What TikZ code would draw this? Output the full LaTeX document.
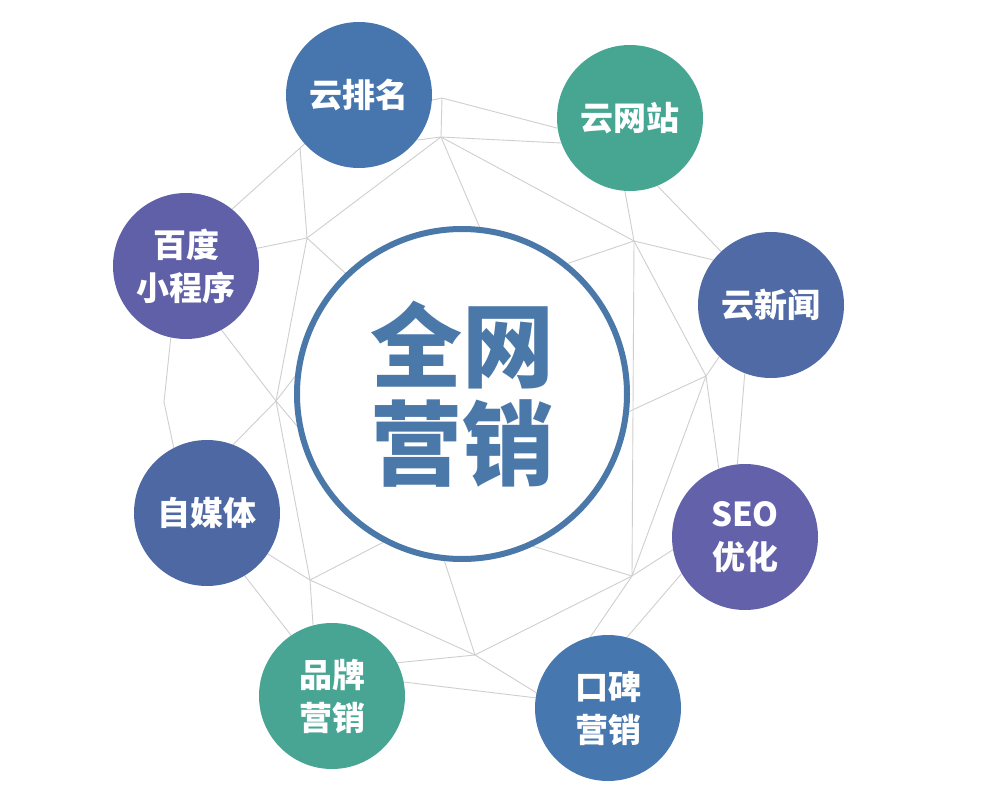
\documentclass[tikz,border=0pt]{standalone}
\usepackage{fontspec}
\setmainfont{Noto Sans CJK SC}
\newfontfamily\cjkheavy{Noto Sans CJK SC Black}
\pgfdeclarelayer{bg}
\pgfsetlayers{bg,main}
\definecolor{bigblue}{HTML}{4A78A8}
\definecolor{cYpm}{HTML}{4676AD}
\definecolor{cYwz}{HTML}{47A692}
\definecolor{cYxw}{HTML}{506AA6}
\definecolor{cSeo}{HTML}{6461AB}
\definecolor{cKb}{HTML}{4677AE}
\definecolor{cPp}{HTML}{48A593}
\definecolor{cZmt}{HTML}{4E68A4}
\definecolor{cBd}{HTML}{6060A9}
\definecolor{netgray}{HTML}{CFCFCF}
\tikzset{
  sat/.style={circle, minimum size=146pt, inner sep=0pt, text=white,
    font=\fontsize{33}{43}\selectfont\bfseries, align=center},
  bigc/.style={circle, minimum size=330pt, inner sep=0pt, draw=bigblue,
    line width=6pt, fill=white, text=bigblue,
    font=\fontsize{92}{98}\selectfont\cjkheavy, align=center},
  net/.style={draw=netgray, line width=0.9pt}
}
\begin{document}
\begin{tikzpicture}[x=1pt,y=-1pt]
\useasboundingbox (0,0) rectangle (983,800);
\begin{pgfonlayer}{bg}
\fill[white] (0,0) rectangle (983,800);
\end{pgfonlayer}

\node[bigc] (big) at (462,394) {全网\\营销};
\node[sat, fill=cYpm] (ypm) at (359,95) {云排名};
\node[sat, fill=cYwz] (ywz) at (630,118) {云网站};
\node[sat, fill=cYxw] (yxw) at (771,305) {云新闻};
\node[sat, fill=cSeo] (seo) at (745,537) {SEO\\优化};
\node[sat, fill=cKb] (kb) at (608,708) {口碑\\营销};
\node[sat, fill=cPp] (pp) at (332,696) {品牌\\营销};
\node[sat, fill=cZmt] (zmt) at (207,513) {自媒体};
\node[sat, fill=cBd] (bd) at (186,266) {百度\\小程序};

\coordinate (A) at (442,98);
\coordinate (B) at (441,137);
\coordinate (C) at (307,238);
\coordinate (D) at (634,241);
\coordinate (E) at (300,148);
\coordinate (F) at (276,401);
\coordinate (G) at (164,402);
\coordinate (H) at (310,580);
\coordinate (I) at (475,655);
\coordinate (J) at (632,576);
\coordinate (K) at (706,376);

\begin{pgfonlayer}{bg}
\path[net] (A) -- (ypm.356) (A) -- (ywz.188) (A) -- (B);
\path[net] (B) -- (ypm.322) (B) -- (ywz.200) (B) -- (C) (B) -- (big.84) (B) -- (D);
\path[net] (E) -- (ypm.222) (E) -- (bd.51) (E) -- (C);
\path[net] (C) -- (bd.14) (C) -- (big.134) (C) -- (F);
\path[net] (G) -- (bd.258) (G) -- (zmt.117);
\path[net] (F) -- (bd.299) (F) -- (big.174) (F) -- (big.191) (F) -- (zmt.69) (F) -- (H);
\path[net] (H) -- (zmt.326) (H) -- (big.242) (H) -- (pp.105) (H) -- (I);
\path[net] (I) -- (big.264) (I) -- (pp.27) (I) -- (kb.168) (I) -- (J);
\path[net] (J) -- (big.295) (J) -- (kb.104) (J) -- (seo.190) (J) -- (D) (J) -- (K);
\path[net] (K) -- (yxw.225) (K) -- (big.354) (K) -- (seo.111) (K) -- (D);
\path[net] (D) -- (ywz.266) (D) -- (yxw.142) (D) -- (big.51);
\path[net] (ywz.292) -- (yxw.133);
\path[net] (yxw.249) -- (seo.96);
\path[net] (kb.75) -- (seo.210);
\path[net] (pp.11) -- (kb.172);
\path[net] (zmt.301) -- (pp.124);
\end{pgfonlayer}
\end{tikzpicture}
\end{document}
